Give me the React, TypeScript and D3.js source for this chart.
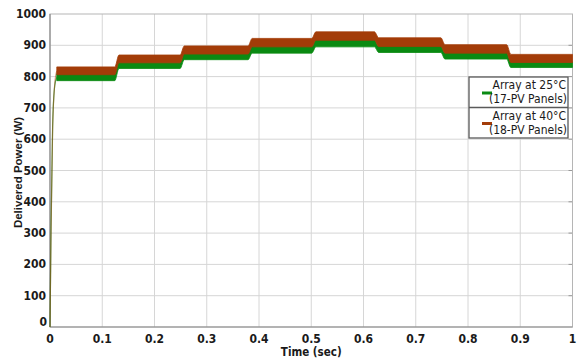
import * as d3 from 'd3';

// step boundaries (sec) and band limits (W)
const stepEdges = [0.013, 0.128, 0.253, 0.383, 0.505, 0.625, 0.752, 0.878, 1.0];
const greenLow = [787, 826, 854, 875, 895, 877, 856, 829];
const greenHigh = [809, 846, 875, 897, 918, 898, 877, 847];
const redLow = [806, 844, 872, 895, 916, 896, 875, 845];
const redHigh = [831, 869, 898, 922, 943, 924, 902, 871];

// start-up transient (both arrays)
const riseT = [0, 0.002, 0.005, 0.009, 0.013];
const riseGreen = [0, 320, 640, 770, 798];
const riseRed = [0, 300, 630, 775, 818];

const xTicks = [0, 0.1, 0.2, 0.3, 0.4, 0.5, 0.6, 0.7, 0.8, 0.9, 1];
const yTicks = [0, 100, 200, 300, 400, 500, 600, 700, 800, 900, 1000];

const GREEN = '#0a8a12';
const RED = '#a33c08';

const W = 578;
const H = 360;
const left = 50;
const right = 572.5;
const top = 14;
const bottom = 327;

const narrow = "'Liberation Sans Narrow', 'DejaVu Sans Condensed', sans-serif";

type Pt = {t: number; lo: number; hi: number};

function bandPoints(lo: number[], hi: number[]): Pt[] {
  const pts: Pt[] = [];
  const d = 0.004;
  lo.forEach((_, i) => {
    const a = stepEdges[i];
    const b = stepEdges[i + 1];
    pts.push({t: i === 0 ? a : a + d, lo: lo[i], hi: hi[i]});
    pts.push({t: i === lo.length - 1 ? b : b - d, lo: lo[i], hi: hi[i]});
  });
  return pts;
}

export default function App() {
  const x = d3.scaleLinear().domain([0, 1]).range([left, right]);
  const y = d3.scaleLinear().domain([0, 1000]).range([bottom, top]);

  const area = d3
    .area<Pt>()
    .x((d) => x(d.t))
    .y0((d) => y(d.lo))
    .y1((d) => y(d.hi))
    .curve(d3.curveMonotoneX);

  const rise = d3
    .line<number>()
    .x((_, i) => x(riseT[i]))
    .y((d) => y(d))
    .curve(d3.curveMonotoneX);

  const greenBand = bandPoints(greenLow, greenHigh);
  const redBand = bandPoints(redLow, redHigh);

  const lx = 469;
  const ly = 77;
  const lw = 99;
  const lh = 61;

  return (
    <svg
      width={W}
      height={H}
      style={{position: 'absolute', left: 0, top: 0, background: '#fff'}}
    >
      {/* grid */}
      <g stroke="#d6d6d6" strokeWidth={1}>
        {xTicks.slice(1, -1).map((t) => (
          <line key={'gx' + t} x1={x(t)} x2={x(t)} y1={top} y2={bottom} />
        ))}
        {yTicks.slice(1, -1).map((v) => (
          <line key={'gy' + v} x1={left} x2={right} y1={y(v)} y2={y(v)} />
        ))}
      </g>
      {/* right side small ticks */}
      <g stroke="#999" strokeWidth={1}>
        {yTicks.slice(1, -1).map((v) => (
          <line key={'rt' + v} x1={right - 4} x2={right} y1={y(v)} y2={y(v)} />
        ))}
      </g>
      {/* frame */}
      <rect x={left} y={top} width={right - left} height={bottom - top} fill="none" stroke="#b5b5b5" strokeWidth={1} />
      <line x1={left} x2={left} y1={top} y2={bottom} stroke="#8c8c8c" strokeWidth={1.2} />
      <line x1={left} x2={right} y1={bottom} y2={bottom} stroke="#8c8c8c" strokeWidth={1.2} />

      {/* data */}
      <path d={rise(riseGreen) ?? ''} fill="none" stroke={GREEN} strokeWidth={1.2} opacity={0.7} />
      <path d={rise(riseRed) ?? ''} fill="none" stroke={RED} strokeWidth={1.2} opacity={0.5} />
      <path d={area(greenBand) ?? ''} fill={GREEN} stroke={GREEN} strokeWidth={0.8} />
      <path d={area(redBand) ?? ''} fill={RED} stroke={RED} strokeWidth={0.8} />

      {/* y tick labels */}
      <g fontFamily={narrow} fontWeight="bold" fontSize={12} fill="#1a1a1a" textAnchor="end">
        {yTicks.map((v) => (
          <text key={'yl' + v} x={v === 0 ? left - 3 : left - 4} y={v === 0 ? y(v) - 1 : y(v) + 4}>
            {v}
          </text>
        ))}
      </g>
      {/* x tick labels */}
      <g fontFamily={narrow} fontWeight="bold" fontSize={12} fill="#1a1a1a" textAnchor="middle">
        {xTicks.map((t) => (
          <text key={'xl' + t} x={x(t)} y={bottom + 16}>
            {t}
          </text>
        ))}
      </g>

      {/* axis titles */}
      <text x={(left + right) / 2} y={356} textAnchor="middle" fontFamily={narrow} fontWeight="bold" fontSize={11.5} fill="#1a1a1a">
        Time (sec)
      </text>
      <text
        transform={`translate(22,${(top + bottom) / 2 + 2}) rotate(-90)`}
        textAnchor="middle"
        fontFamily="'Liberation Sans', Arial, sans-serif"
        fontWeight="bold"
        fontSize={11.5}
        fill="#1a1a1a"
      >
        Delivered Power (W)
      </text>

      {/* legend */}
      <g>
        <rect x={lx} y={ly} width={lw} height={lh} fill="#fff" stroke="#5a5a5a" strokeWidth={1.3} />
        <line x1={lx} x2={lx + lw} y1={ly + lh / 2} y2={ly + lh / 2} stroke="#5a5a5a" strokeWidth={1.3} />
        <line x1={482} x2={492} y1={ly + 16} y2={ly + 16} stroke={GREEN} strokeWidth={3} />
        <line x1={482} x2={492} y1={ly + 16 + lh / 2} y2={ly + 16 + lh / 2} stroke={RED} strokeWidth={3} />
        <g fontFamily={narrow} fontSize={12} fill="#1a1a1a" textAnchor="end">
          <text x={566} y={ly + 12}>Array at 25°C</text>
          <text x={567} y={ly + 26}>(17-PV Panels)</text>
          <text x={566} y={ly + 12 + lh / 2}>Array at 40°C</text>
          <text x={567} y={ly + 26 + lh / 2}>(18-PV Panels)</text>
        </g>
      </g>
    </svg>
  );
}
